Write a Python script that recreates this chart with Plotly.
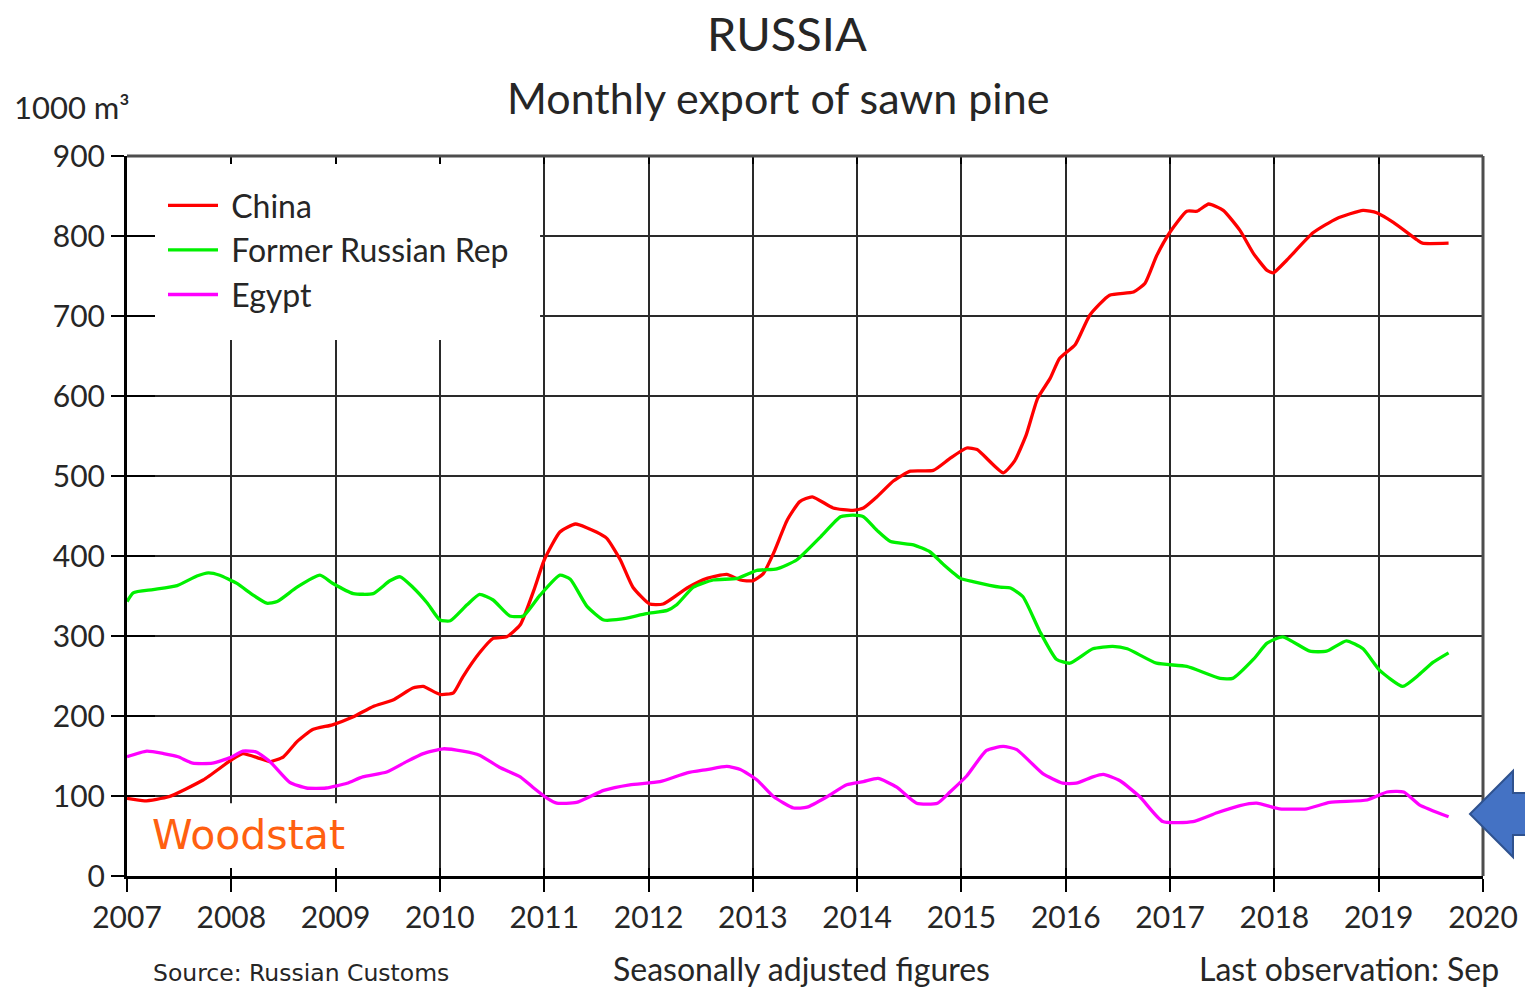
import plotly.graph_objects as go

# Monthly export of sawn pine from Russia, 1000 m3 (seasonally adjusted)
china_t = [2007.0, 2007.17, 2007.4, 2007.73, 2008.0, 2008.11, 2008.27, 2008.37, 2008.5, 2008.63,
           2008.78, 2008.97, 2009.17, 2009.36, 2009.55, 2009.74, 2009.84, 2010.0, 2010.13, 2010.22,
           2010.38, 2010.51, 2010.64, 2010.77, 2010.9, 2011.0, 2011.15, 2011.3, 2011.5, 2011.6,
           2011.73, 2011.85, 2012.01, 2012.14, 2012.37, 2012.56, 2012.75, 2012.88, 2013.0, 2013.1,
           2013.2, 2013.33, 2013.45, 2013.57, 2013.77, 2013.96, 2014.06, 2014.19, 2014.35, 2014.51,
           2014.73, 2014.89, 2015.05, 2015.15, 2015.4, 2015.51, 2015.62, 2015.73, 2015.85, 2015.94,
           2016.09, 2016.23, 2016.42, 2016.65, 2016.76, 2016.87, 2017.0, 2017.16, 2017.26, 2017.37,
           2017.51, 2017.67, 2017.8, 2017.93, 2017.99, 2018.12, 2018.37, 2018.6, 2018.85, 2018.98,
           2019.14, 2019.37, 2019.42, 2019.67]
china_v = [97, 94, 99, 120, 145, 153, 147, 143, 149, 168,
           183, 189, 199, 212, 220, 235, 237, 227, 229, 249,
           279, 297, 299, 314, 357, 395, 430, 440, 430, 422,
           395, 361, 340, 340, 360, 372, 377, 370, 369, 378,
           404, 445, 468, 474, 460, 457, 460, 474, 494, 506,
           507, 522, 535, 533, 504, 519, 551, 597, 622, 647,
           664, 701, 726, 730, 741, 775, 805, 831, 831, 840,
           832, 807, 778, 757, 754, 770, 804, 822, 832, 829,
           817, 795, 791, 791]

frr_t = [2007.0, 2007.06, 2007.25, 2007.48, 2007.67, 2007.78, 2007.89, 2008.05, 2008.21, 2008.34,
         2008.44, 2008.63, 2008.85, 2008.97, 2009.17, 2009.36, 2009.52, 2009.62, 2009.74, 2009.88,
         2010.0, 2010.1, 2010.26, 2010.38, 2010.51, 2010.67, 2010.8, 2010.96, 2011.15, 2011.25,
         2011.41, 2011.57, 2011.73, 2011.98, 2012.18, 2012.27, 2012.43, 2012.62, 2012.85, 2013.04,
         2013.23, 2013.42, 2013.65, 2013.84, 2013.96, 2014.06, 2014.19, 2014.32, 2014.54, 2014.7,
         2014.83, 2014.99, 2015.11, 2015.37, 2015.47, 2015.59, 2015.75, 2015.91, 2016.04, 2016.26,
         2016.45, 2016.59, 2016.87, 2017.16, 2017.48, 2017.6, 2017.8, 2017.93, 2018.08, 2018.34,
         2018.5, 2018.69, 2018.85, 2019.01, 2019.23, 2019.39, 2019.52, 2019.67]
frr_v = [343, 354, 358, 363, 375, 379, 376, 366, 351, 341,
         343, 361, 376, 366, 353, 353, 369, 374, 361, 341,
         320, 319, 339, 352, 345, 325, 325, 351, 376, 371,
         337, 320, 321, 328, 332, 339, 361, 370, 372, 382,
         384, 395, 424, 449, 451, 449, 432, 418, 414, 405,
         389, 372, 368, 361, 360, 349, 306, 271, 266, 284,
         287, 284, 266, 262, 247, 247, 271, 291, 299, 281,
         281, 294, 284, 257, 237, 252, 267, 279]

egypt_t = [2007.0, 2007.19, 2007.35, 2007.49, 2007.63, 2007.82, 2007.99, 2008.11, 2008.24, 2008.37,
           2008.56, 2008.72, 2008.91, 2009.11, 2009.26, 2009.49, 2009.68, 2009.84, 2010.03, 2010.22,
           2010.38, 2010.57, 2010.77, 2010.89, 2011.03, 2011.12, 2011.31, 2011.57, 2011.82, 2012.11,
           2012.37, 2012.56, 2012.75, 2012.88, 2013.04, 2013.2, 2013.39, 2013.52, 2013.71, 2013.9,
           2014.06, 2014.2, 2014.38, 2014.57, 2014.77, 2014.89, 2015.05, 2015.24, 2015.4, 2015.53,
           2015.78, 2015.97, 2016.1, 2016.26, 2016.36, 2016.52, 2016.71, 2016.93, 2017.22, 2017.45,
           2017.67, 2017.83, 2018.05, 2018.31, 2018.53, 2018.89, 2019.08, 2019.24, 2019.39, 2019.67]
egypt_v = [149, 156, 153, 149, 141, 141, 148, 156, 155, 143,
           117, 110, 110, 116, 124, 130, 143, 153, 159, 156,
           151, 136, 124, 111, 97, 91, 92, 107, 114, 118,
           129, 133, 137, 133, 120, 99, 85, 86, 99, 114,
           118, 122, 111, 91, 91, 105, 125, 157, 162, 158,
           128, 116, 116, 124, 127, 119, 99, 68, 68, 79,
           88, 91, 84, 84, 92, 95, 105, 105, 89, 74]

years = list(range(2007, 2021))
year_labels = [str(y) for y in years]
y_ticks = list(range(0, 901, 100))

W, H = 1525, 987
L, R, T, B = 127, 42, 156, 111
PW, PH = W - L - R, H - T - B


def px(x):
    return (x - L) / PW


def py(y):
    return (H - B - y) / PH


FONT = "Lato"
TXT = "#262626"
NB = "\u00a0"

fig = go.Figure()
series = [
    ("China", china_t, china_v, "#ff0000"),
    ("Former Russian Rep", frr_t, frr_v, "#00f000"),
    ("Egypt", egypt_t, egypt_v, "#ff00ff"),
]
for name, t, v, col in series:
    fig.add_trace(go.Scatter(
        x=t, y=v, name=NB + name, mode="lines", legendgroup=name,
        line=dict(color=col, width=3.3, shape="spline", smoothing=0.5),
    ))

# helper trace so the inner-tick overlay axes render
fig.add_trace(go.Scatter(x=[None], y=[None], xaxis="x2", yaxis="y2",
                         showlegend=False, hoverinfo="skip"))

axis_common = dict(
    showline=True, linecolor="black", linewidth=3,
    ticks="outside", ticklen=13, tickwidth=2, tickcolor="black",
    showgrid=True, gridcolor="#2a2a2a", gridwidth=2,
    zeroline=False, tickfont=dict(family=FONT, size=30, color=TXT),
)

fig.update_layout(
    width=W, height=H,
    margin=dict(l=L, r=R, t=T, b=B, autoexpand=False),
    paper_bgcolor="white", plot_bgcolor="white",
    xaxis=dict(range=[2007, 2020], tickvals=years, ticktext=year_labels, **axis_common),
    yaxis=dict(range=[0, 900], tickvals=y_ticks, **axis_common),
    xaxis2=dict(overlaying="x", anchor="y2", range=[2007, 2020], tickvals=years,
                showticklabels=False, ticks="inside", ticklen=8, tickwidth=2,
                tickcolor="black", mirror="ticks", showgrid=False, zeroline=False,
                showline=False),
    yaxis2=dict(overlaying="y", anchor="x2", side="left", range=[0, 900], tickvals=y_ticks,
                showticklabels=False, ticks="inside", ticklen=28, tickwidth=2,
                tickcolor="black", showgrid=False, zeroline=False, showline=False),
    showlegend=True,
    legend=dict(
        x=px(163), y=py(178), xanchor="left", yanchor="top",
        bgcolor="rgba(0,0,0,0)", borderwidth=0,
        font=dict(family=FONT, size=32, color=TXT),
        itemwidth=50, tracegroupgap=0,
    ),
)

shapes = [
    # white panel behind the legend
    dict(type="rect", xref="x", yref="y", x0=2007, x1=2010.96, y0=670, y1=900,
         fillcolor="white", line=dict(width=0), layer="between"),
    # white panel behind the logo
    dict(type="rect", xref="x", yref="y", x0=2007, x1=2009.8, y0=0, y1=91,
         fillcolor="white", line=dict(width=0), layer="between"),
    # top and right frame
    dict(type="line", xref="paper", yref="paper", x0=0, x1=1, y0=1, y1=1,
         line=dict(color="#4d4d4d", width=3)),
    dict(type="line", xref="paper", yref="paper", x0=1, x1=1, y0=0, y1=1,
         line=dict(color="#4d4d4d", width=3)),
]

# blue arrow pointing at the latest observation
arrow = [(1470, 814), (1513, 771), (1513, 793), (1530, 793), (1530, 835), (1513, 835), (1513, 857)]
path = "M " + " L ".join(f"{px(x):.5f},{py(y):.5f}" for x, y in arrow) + " Z"
shapes.append(dict(type="path", xref="paper", yref="paper", path=path,
                   fillcolor="#4472c4", line=dict(color="#2f528f", width=2), layer="above"))
fig.update_layout(shapes=shapes)


def note(text, x, y, size, xanchor="left", color=TXT, family=FONT):
    fig.add_annotation(text=text, x=px(x), y=py(y), xref="paper", yref="paper",
                       xanchor=xanchor, yanchor="middle", showarrow=False, borderpad=0,
                       font=dict(family=family, size=size, color=color))


note("RUSSIA", 787, 33, 47, xanchor="center")
note("Monthly export of sawn pine", 778, 97, 43, xanchor="center")
note("1000 m³", 13, 107, 31)
note("Woodstat", 151, 835, 41, color="#ff6010", family="DejaVu Sans")
note("Source: Russian Customs", 152, 973, 23.5, family="DejaVu Sans")
note("Seasonally adjusted figures", 612, 968, 32)
note("Last observation: Sep", 1500, 968, 32, xanchor="right")

fig.write_html("out.html")
